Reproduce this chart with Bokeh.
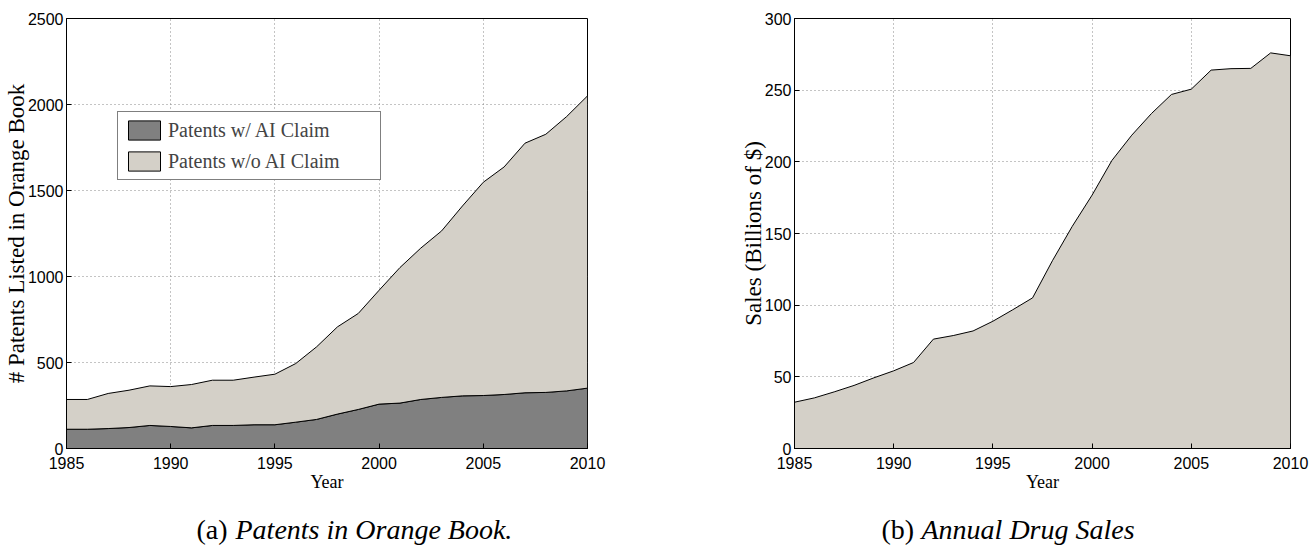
from bokeh.plotting import figure
from bokeh.models import Range1d, FixedTicker, Legend, LegendItem, Label
from bokeh.layouts import row, column
from bokeh.embed import file_html
from bokeh.resources import INLINE

# ---------------- data ----------------
years = list(range(1985, 2011))
patents_ai = [112, 112, 116, 122, 134, 128, 120, 134, 134, 138, 138, 153, 169,
              200, 227, 258, 264, 285, 297, 306, 308, 314, 324, 326, 335, 351]
patents_total = [285, 285, 320, 339, 364, 360, 372, 397, 397, 415, 432, 494, 591,
                 707, 785, 920, 1052, 1165, 1265, 1410, 1548, 1637, 1775, 1827, 1930, 2050]
sales = [32.3, 35.3, 39.5, 44.0, 49.3, 54.2, 60.0, 76.3, 78.8, 82.0, 88.8, 96.8, 105.1,
         131.0, 155.0, 176.8, 201.0, 218.6, 233.8, 247.0, 250.7, 264.0, 265.0, 265.2, 276.0, 274.0]
x_ticks = [1985, 1990, 1995, 2000, 2005, 2010]
y_ticks_a = [0, 500, 1000, 1500, 2000, 2500]
y_ticks_b = [0, 50, 100, 150, 200, 250, 300]
legend_labels = ["Patents w/ AI Claim", "Patents w/o AI Claim"]
caption_a = ("(a)", "Patents in Orange Book.")
caption_b = ("(b)", "Annual Drug Sales")

DARK = "#808080"
LIGHT = "#d4d0c8"
SERIF = "Liberation Serif"
SANS = "Liberation Sans"
FRAME_H = 430
X0, X1 = 1985, 2010
CAP_H = 45


def make_fig(frame_w, ymax, yticks, ylabel, border_left, border_right):
    p = figure(frame_width=frame_w, frame_height=FRAME_H,
               x_range=Range1d(X0, X1), y_range=Range1d(0, ymax),
               output_backend="svg", toolbar_location=None,
               min_border_left=border_left, min_border_right=border_right,
               min_border_top=18, min_border_bottom=52,
               background_fill_color="white", border_fill_color="white")
    p.outline_line_color = "black"
    p.outline_line_width = 1
    p.xaxis.ticker = FixedTicker(ticks=x_ticks)
    p.yaxis.ticker = FixedTicker(ticks=yticks)
    for ax in (p.xaxis[0], p.yaxis[0]):
        ax.axis_line_color = "black"
        ax.axis_line_width = 1
        ax.major_tick_in = 5
        ax.major_tick_out = 0
        ax.minor_tick_in = 0
        ax.minor_tick_out = 0
        ax.major_tick_line_color = "black"
        ax.major_label_text_font = SANS
        ax.major_label_text_font_size = "16px"
        ax.major_label_text_color = "black"
        ax.axis_label_text_font = SERIF
        ax.axis_label_text_font_style = "normal"
        ax.axis_label_text_color = "black"
    p.xaxis.major_label_standoff = 8
    p.xaxis.axis_label = "Year"
    p.xaxis.axis_label_text_font_size = "18px"
    p.xaxis.axis_label_standoff = 0
    p.yaxis.major_label_standoff = 3
    p.yaxis.axis_label = ylabel
    p.yaxis.axis_label_text_font_size = "23px"
    p.yaxis.axis_label_standoff = -4
    p.grid.grid_line_color = "#888888"
    p.grid.grid_line_dash = "1 3"
    p.grid.grid_line_width = 1
    p.xgrid.ticker = FixedTicker(ticks=x_ticks)
    p.ygrid.ticker = FixedTicker(ticks=yticks)
    return p


def make_caption(width, parts, left_px, gap_px):
    c = figure(width=width, height=CAP_H, x_range=Range1d(0, width), y_range=Range1d(0, CAP_H),
               x_axis_type=None, y_axis_type=None, output_backend="svg",
               toolbar_location=None, min_border=0, outline_line_color=None,
               background_fill_color="white", border_fill_color="white")
    c.grid.visible = False
    yc = CAP_H - 29
    c.add_layout(Label(x=left_px, y=yc, text=parts[0], text_font=SERIF, text_font_size="28px",
                       text_baseline="middle", text_align="left", text_color="black"))
    c.add_layout(Label(x=left_px + gap_px, y=yc, text=parts[1], text_font=SERIF,
                       text_font_style="italic", text_font_size="28px",
                       text_baseline="middle", text_align="left", text_color="black"))
    return c


# ---------------- (a) patents ----------------
pa = make_fig(521, 2500, y_ticks_a, "# Patents Listed in Orange Book", 59, 60)
xs_band = years + years[::-1]
r_ai = pa.patch(x=xs_band, y=patents_ai + [0] * len(years),
                fill_color=DARK, line_color="black", line_width=1)
r_tot = pa.patch(x=xs_band, y=patents_total + patents_ai[::-1],
                 fill_color=LIGHT, line_color="black", line_width=1)
legend = Legend(items=[LegendItem(label=legend_labels[0], renderers=[r_ai]),
                       LegendItem(label=legend_labels[1], renderers=[r_tot])],
                location=(51, 268), orientation="vertical",
                glyph_width=40, glyph_height=24, label_standoff=4,
                label_width=206, label_height=24, padding=6, spacing=7, margin=0,
                label_text_font=SERIF, label_text_font_size="20px",
                border_line_color="black", border_line_width=1,
                background_fill_color="white", background_fill_alpha=1.0)
pa.add_layout(legend)

# ---------------- (b) sales ----------------
pb = make_fig(496, 300, y_ticks_b, "Sales (Billions of $)", 147, 19)
pb.patch(x=xs_band, y=sales + [0] * len(years),
         fill_color=LIGHT, line_color="black", line_width=1)

ca = make_caption(59 + 521 + 60, caption_a, 196, 39)
cb = make_caption(147 + 496 + 19, caption_b, 241, 40)

layout = column(row(pa, pb), row(ca, cb))
open("out.html", "w").write(file_html(layout, INLINE))
